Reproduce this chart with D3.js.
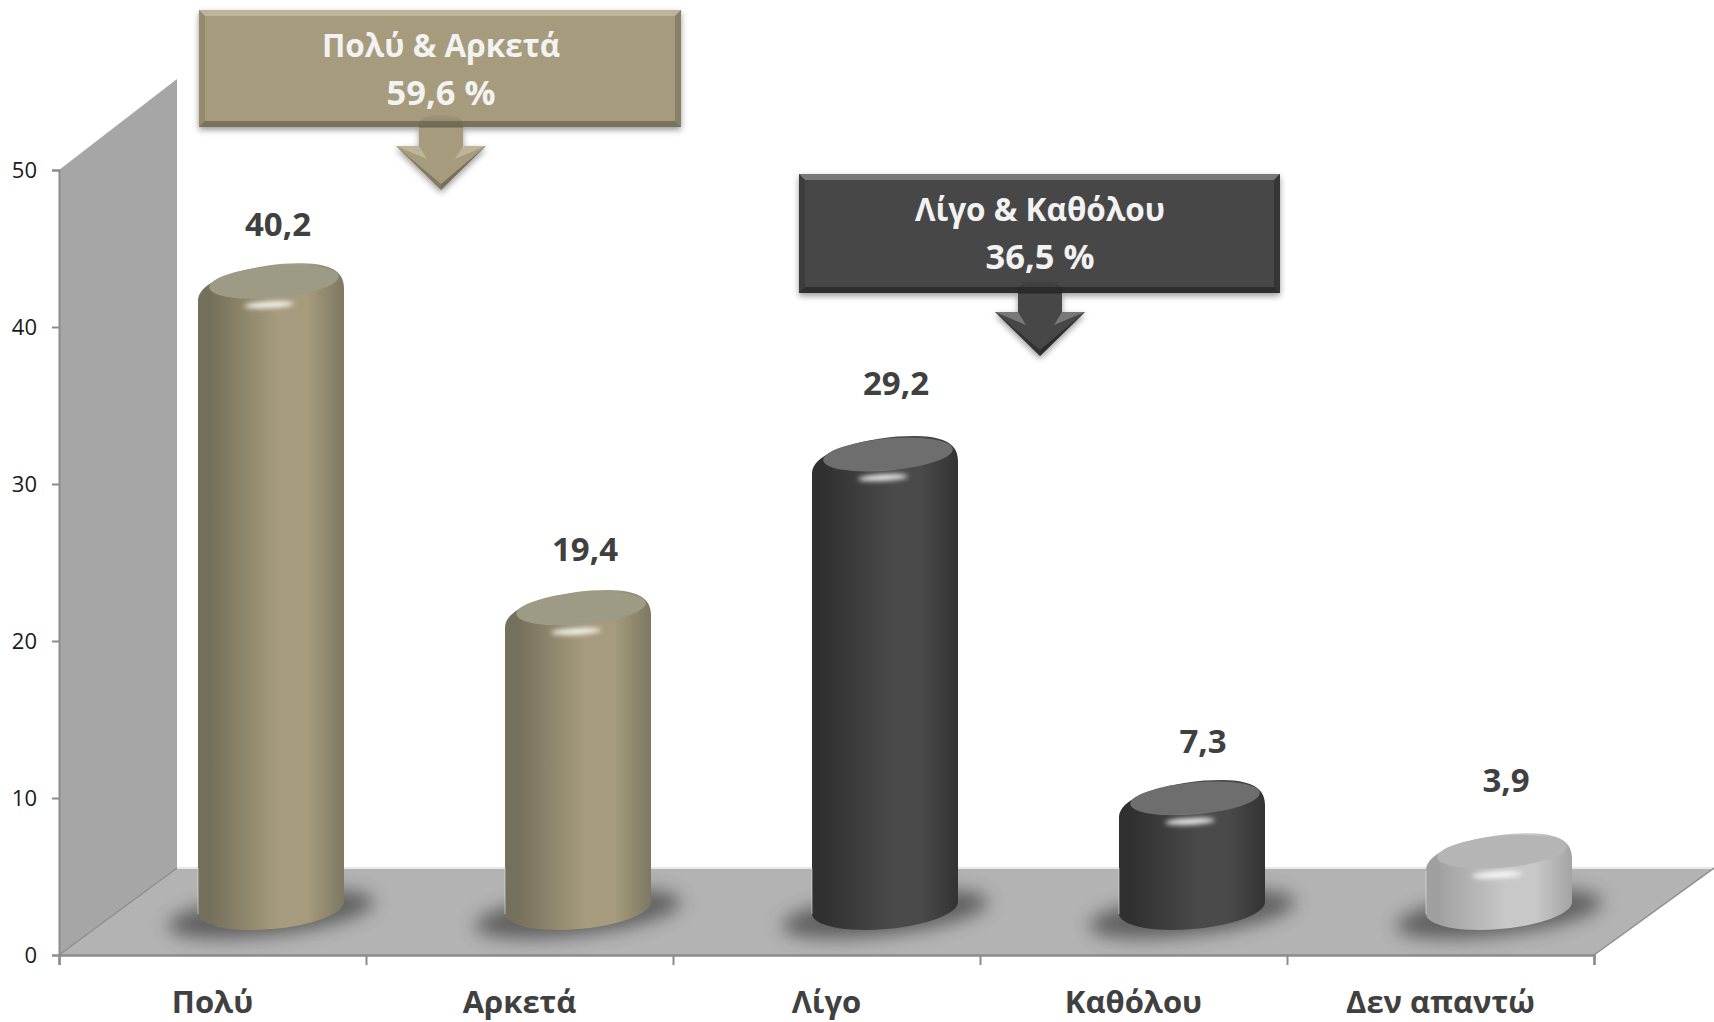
<!DOCTYPE html>
<html><head><meta charset="utf-8">
<script src="https://cdn.jsdelivr.net/npm/d3@7"></script>
<style>html,body{margin:0;padding:0;background:#fff;overflow:hidden}svg{display:block}text{font-family:"Open Sans",sans-serif}</style>
</head><body><svg id="c" width="1714" height="1022"></svg>
<script>
const categories=["Πολύ","Αρκετά","Λίγο","Καθόλου","Δεν απαντώ"];
const values=[40.2,19.4,29.2,7.3,3.9];
const valueLabels=["40,2","19,4","29,2","7,3","3,9"];
const barTheme=["tan","tan","dark","dark","light"];
const yTicks=[0,10,20,30,40,50];
const calloutTitles=["Πολύ & Αρκετά","Λίγο & Καθόλου"];
const calloutValues=["59,6 %","36,5 %"];
const calloutThemes=["tan","dark"];
// layout (not data)
const labelShift=[-100,-101,-114,-99,-114];
const labelShiftX=[7,7,11,11,7];
const W=1714,H=1022,x0=59,x1=1594,depthX=118,depthY=87,wallBackTop=79;
const themes={
 tan:{edge:"#75705b",mid:"#a69b7c",edgeR:"#7d7862",face:"#9d9a85",box:"#a69b7c",hi:"#bdb59a",lo:"#6a6551"},
 dark:{edge:"#303030",mid:"#4a4a4a",edgeR:"#333333",face:"#6e6e6e",box:"#474747",hi:"#787878",lo:"#262626"},
 light:{edge:"#a0a0a0",mid:"#c8c8c8",edgeR:"#a4a4a4",face:"#b5b5b5",box:"#c8c8c8",hi:"#eee",lo:"#888"}
};
const svg=d3.select("#c");
const defs=svg.append("defs");
const x=d3.scaleBand().domain(categories).range([x0,x1]);
const y=d3.scaleLinear().domain([0,50]).range([955,170]);
const blur=(id,s)=>defs.append("filter").attr("id",id).attr("x","-40%").attr("y","-80%").attr("width","180%").attr("height","260%").append("feGaussianBlur").attr("stdDeviation",s);
blur("b9",9);blur("b2",2.4);
const sh=defs.append("filter").attr("id","drop").attr("x","-5%").attr("y","-10%").attr("width","110%").attr("height","125%");
sh.append("feDropShadow").attr("dx",0).attr("dy",3).attr("stdDeviation",3).attr("flood-color","#000").attr("flood-opacity",.4);
Object.entries(themes).forEach(([k,t])=>{
 const g=defs.append("linearGradient").attr("id","cyl-"+k);
 [[0,t.edge],[.08,t.edge],[.55,t.mid],[.75,t.mid],[1,t.edgeR]].forEach(s=>g.append("stop").attr("offset",s[0]).attr("stop-color",s[1]));
 const d=defs.append("linearGradient").attr("id","dome-"+k).attr("x1",0).attr("x2",0).attr("y1",0).attr("y2",1);
 d.append("stop").attr("offset",0).attr("stop-color",t.lo).attr("stop-opacity",.1);
 d.append("stop").attr("offset",1).attr("stop-color",t.lo).attr("stop-opacity",.5);
});
const poly=p=>"M"+p.map(d=>d.join(",")).join("L")+"Z";
// wall + floor
const yBack=y(0)-depthY;
svg.append("path").attr("d",poly([[x0,y(50)],[x0+depthX,wallBackTop],[x0+depthX,yBack],[x0,y(0)]])).attr("fill","#a6a6a6");
svg.append("path").attr("d",poly([[x0,y(0)],[x0+depthX,yBack],[W,yBack],[x1,y(0)]])).attr("fill","#b3b3b3");
svg.append("line").attr("x1",x0+depthX).attr("x2",W).attr("y1",yBack).attr("y2",yBack).attr("stroke","#e8e8e8").attr("stroke-width",2);
svg.append("line").attr("x1",x0).attr("y1",y(0)).attr("x2",x0+depthX).attr("y2",yBack).attr("stroke","#8e8e8e").attr("stroke-width",1.5);
svg.append("line").attr("x1",x1).attr("y1",y(0)).attr("x2",W).attr("y2",yBack).attr("stroke","#8e8e8e").attr("stroke-width",1.5);
// axes
const gy=svg.append("g").attr("transform",`translate(${x0},0)`).call(d3.axisLeft(y).tickValues(yTicks).tickSize(7).tickPadding(15));
gy.select(".domain").attr("stroke","#8c8c8c").attr("stroke-width",2);
gy.selectAll("line").attr("stroke","#8c8c8c").attr("stroke-width",2);
gy.selectAll("text").attr("font-size",22).attr("fill","#1a1a1a").style("font-family",'"Open Sans",sans-serif');
const edgeScale=d3.scaleLinear().domain([0,categories.length]).range([x0,x1]);
const gx=svg.append("g").attr("transform",`translate(0,${y(0)})`).call(d3.axisBottom(edgeScale).ticks(categories.length).tickSize(10).tickFormat(""));
gx.select(".domain").attr("stroke","#8c8c8c").attr("stroke-width",2.5);
gx.selectAll("line").attr("stroke","#8c8c8c").attr("stroke-width",2);
svg.append("g").selectAll("text").data(categories).join("text")
 .attr("x",d=>x(d)+x.bandwidth()/2).attr("y",1013).attr("text-anchor","middle")
 .attr("font-size",31).attr("font-weight",700).attr("fill","#404040").text(d=>d);
// bars
const rx=73,ry=21,rot=-5,dy=6,topLift=37,baseLift=47,barOff=x.bandwidth()/2+58.5;
const rows=categories.map((c,i)=>({c,v:values[i],lab:valueLabels[i],th:barTheme[i],sh:labelShift[i],sx:labelShiftX[i]}));
const bars=svg.append("g").selectAll("g").data(rows).join("g");
const cxOf=d=>x(d.c)+barOff, topOf=d=>y(d.v)-topLift;
bars.append("ellipse").attr("cx",cxOf).attr("cy",y(0)-41).attr("rx",104).attr("ry",21)
 .attr("transform",d=>`rotate(-7 ${cxOf(d)} ${y(0)-41})`).attr("fill","#404040").attr("opacity",.72).attr("filter","url(#b9)");
bars.append("path").attr("fill",d=>`url(#cyl-${d.th})`).attr("d",d=>{
 const c=cxOf(d),t=topOf(d),b=y(0)-baseLift;
 return `M${c-rx},${t+dy+8}C${c-rx},${t-4} ${c-38},${t-ry+3} ${c+12},${t-ry-2}C${c+46},${t-ry-4} ${c+rx},${t-ry-1} ${c+rx},${t-dy+7}L${c+rx},${b-dy}A${rx},${ry} ${rot} 0 1 ${c-rx},${b+dy}Z`;
});
bars.append("path").attr("fill","none").attr("stroke","#e8e8e8").attr("stroke-width",1).attr("opacity",.6)
 .attr("d",d=>{const c=cxOf(d),b=y(0)-baseLift;return `M${c-rx},${Math.max(yBack,topOf(d)+dy+8)}L${c-rx},${b+dy}`;});
bars.append("ellipse").attr("cx",d=>cxOf(d)+3).attr("cy",d=>topOf(d)-5).attr("rx",65).attr("ry",16)
 .attr("transform",d=>`rotate(${rot} ${cxOf(d)+3} ${topOf(d)-5})`).attr("fill",d=>themes[d.th].face);
bars.append("ellipse").attr("cx",d=>cxOf(d)-2).attr("cy",d=>topOf(d)+18).attr("rx",25).attr("ry",3)
 .attr("transform",d=>`rotate(-3 ${cxOf(d)-2} ${topOf(d)+18})`).attr("fill","#fff").attr("opacity",.95).attr("filter","url(#b2)");
bars.append("text").attr("x",d=>cxOf(d)+d.sx).attr("y",d=>y(d.v)+d.sh+12).attr("text-anchor","middle")
 .attr("font-size",33).attr("font-weight",700).attr("fill","#404040").text(d=>d.lab);
// callouts
const boxes=[{x:199,y:10,w:482,h:117,cx:441},{x:799,y:174,w:481,h:119,cx:1040}];
boxes.forEach((b,i)=>{
 const k=calloutThemes[i],t=themes[k],g=svg.append("g"),bv=6;
 g.append("rect").attr("x",b.x).attr("y",b.y).attr("width",b.w).attr("height",b.h).attr("fill",t.box).attr("filter","url(#drop)");
 const r=b.x+b.w,bt=b.y+b.h;
 g.append("path").attr("d",poly([[b.x,b.y],[r,b.y],[r-bv,b.y+bv],[b.x+bv,b.y+bv]])).attr("fill",t.hi);
 g.append("path").attr("d",poly([[b.x,bt],[r,bt],[r-bv,bt-bv],[b.x+bv,bt-bv]])).attr("fill",t.lo).attr("opacity",.75);
 g.append("path").attr("d",poly([[b.x,b.y],[b.x+bv,b.y+bv],[b.x+bv,bt-bv],[b.x,bt]])).attr("fill",t.lo).attr("opacity",.3);
 g.append("path").attr("d",poly([[r,b.y],[r-bv,b.y+bv],[r-bv,bt-bv],[r,bt]])).attr("fill",t.lo).attr("opacity",.5);
 const sw=22,hw=45,hy=bt+19,tip=bt+63,top=bt-12;
 const a=g.append("g");
 a.append("path").attr("d",`M${b.cx-sw},${bt}L${b.cx-sw},${hy}L${b.cx-hw},${hy}L${b.cx},${tip}L${b.cx+hw},${hy}L${b.cx+sw},${hy}L${b.cx+sw},${bt}Z`).attr("fill",t.box).attr("filter","url(#drop)");
 a.append("path").attr("d",`M${b.cx-sw},${bt+1}L${b.cx-sw},${top+10}Q${b.cx-sw},${top} ${b.cx},${top}Q${b.cx+sw},${top} ${b.cx+sw},${top+10}L${b.cx+sw},${bt+1}Z`).attr("fill",`url(#dome-${k})`);
 a.append("path").attr("d",poly([[b.cx-hw,hy],[b.cx-sw,hy],[b.cx-sw+8,hy+13]])).attr("fill",t.hi);
 a.append("path").attr("d",poly([[b.cx+hw,hy],[b.cx+sw,hy],[b.cx+sw-8,hy+13]])).attr("fill",t.hi);
 a.append("path").attr("d",poly([[b.cx-hw,hy],[b.cx,tip],[b.cx,tip-6]])).attr("fill",t.lo).attr("opacity",.6);
 a.append("path").attr("d",poly([[b.cx+hw,hy],[b.cx,tip],[b.cx,tip-6]])).attr("fill",t.lo).attr("opacity",.8);
 g.append("text").attr("x",b.cx).attr("y",b.y+47).attr("text-anchor","middle").attr("font-size",31.5).attr("font-weight",700).attr("fill","#f2f2f2").text(calloutTitles[i]);
 g.append("text").attr("x",b.cx).attr("y",b.y+95).attr("text-anchor","middle").attr("font-size",34.5).attr("font-weight",700).attr("fill","#f2f2f2").text(calloutValues[i]);
});
</script></body></html>
